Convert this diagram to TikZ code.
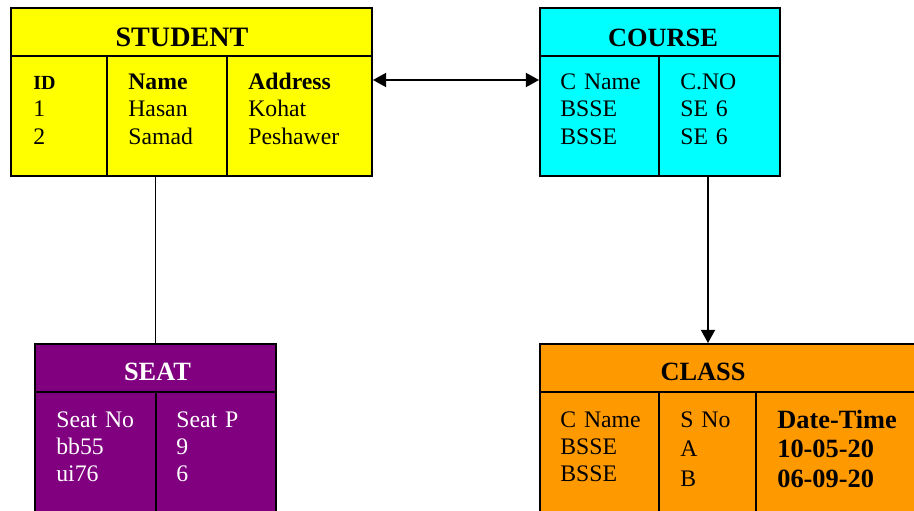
\documentclass[tikz,border=0pt]{standalone}
\usepackage{fontspec}
\setmainfont{Liberation Serif}
\usetikzlibrary{positioning,fit,calc,arrows.meta}
\definecolor{studentyellow}{RGB}{255,255,0}
\definecolor{coursecyan}{RGB}{0,255,255}
\definecolor{seatpurple}{RGB}{128,0,128}
\definecolor{classorange}{RGB}{255,153,0}

\tikzset{
	entity/.style={draw, line width=1.1pt, inner sep=0pt},
	title/.style={anchor=base, font=\fontsize{15}{18}\selectfont\bfseries},
	column/.style={anchor=base west, inner sep=0pt, text width=2.6cm, align=left, font=\fontsize{13.5}{15.9}\selectfont},
	link/.style={line width=1pt, >={Triangle[length=7.5pt,width=8pt]}}
}

\begin{document}
\begin{tikzpicture}[x=0.02cm, y=-0.02cm]
			\clip (0,0) rectangle (914,511);
			% tables
			\node[entity, fill=studentyellow, fit={(11,8) (372,176)}] (student) {};
			\node[entity, fill=coursecyan, fit={(540,8) (780,176)}] (course) {};
			\node[entity, fill=seatpurple, fit={(35,344) (276,540)}] (seat) {};
			\node[entity, fill=classorange, fit={(540,344) (940,540)}] (class) {};
			
			\begin{scope}[line width=1.1pt]
			\draw (student.west |- 0,56) -- (student.east |- 0,56);
			\draw (course.west |- 0,56) -- (course.east |- 0,56);
			\draw (seat.west |- 0,392) -- (seat.east |- 0,392);
			\draw (class.west |- 0,392) -- (class.east |- 0,392);
			\foreach \x in {107,227}
			\draw (\x,56) -- (\x,176);
			\draw (659,56) -- (659,176);
			\draw (156,392) -- (156,540);
			\foreach \x in {659,756}
			\draw (\x,392) -- (\x,540);
			\end{scope}
			
			\node[title, font=\fontsize{16}{18}\selectfont\bfseries] (studenthead) at (182,46) {STUDENT};
			\node[column] (studentid) at (33,89) {{\fontsize{11.4}{15.9}\selectfont\bfseries ID}\\1\\2};
			\node[column] (studentname) at (128,89) {\textbf{Name}\\Hasan\\Samad};
			\node[column] (studentaddr) at (248,89) {\textbf{Address}\\Kohat\\Peshawer};
			
			\node[title] (coursehead) at (663,46) {COURSE};
			\node[column] (coursename) at (560,89) {C Name\\BSSE\\BSSE};
			\node[column] (courseno) at (680,89) {C.NO\\SE 6\\SE 6};
			
			\node[title, text=white] (seathead) at (157.5,380) {SEAT};
			\node[column, text=white, font=\fontsize{13.5}{15.4}\selectfont] (seatno) at (56,427) {Seat No\\bb55\\ui76};
			\node[column, text=white, font=\fontsize{13.5}{15.4}\selectfont] (seatpos) at (176,427) {Seat P\\9\\6};
			
			\node[title] (classhead) at (703,380) {CLASS};
			\node[column, font=\fontsize{13.5}{15.6}\selectfont] (classname) at (560,427) {C Name\\BSSE\\BSSE};
			\node[column, font=\fontsize{13.5}{16.8}\selectfont] (classsno) at (680,427) {S No\\A\\B};
			\node[column, font=\fontsize{15}{16.8}\selectfont\bfseries] (classdate) at (777,428) {Date-Time\\10-05-20\\06-09-20};
			
			% relations
			\begin{scope}[link]
			\draw[<->] ($(student.east)+(0,-12)$) -- ($(course.west)+(0,-12)$);
			\draw (seat.north |- student.south) -- (seat.north);
			\draw[->] ($(course.south)+(48,0)$) coordinate (drop) -- (drop |- class.north);
			\end{scope}
\end{tikzpicture}
\end{document}
